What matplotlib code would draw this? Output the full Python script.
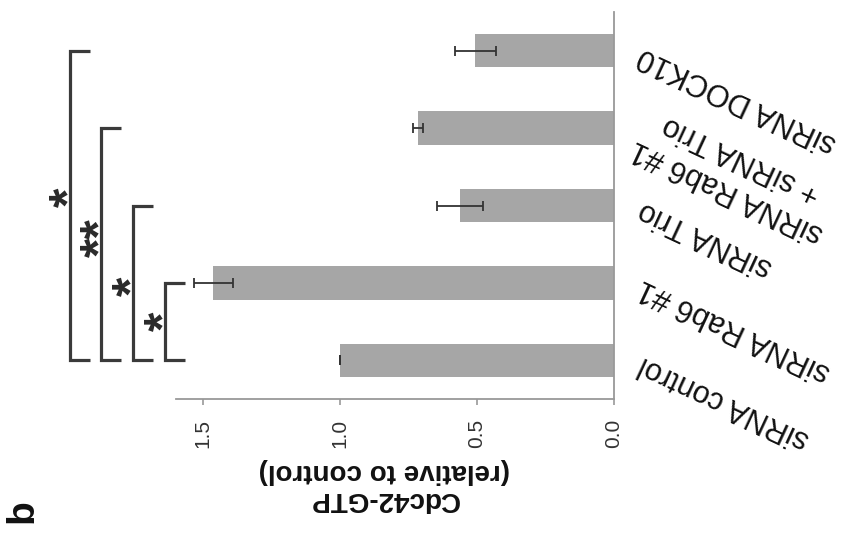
import matplotlib
matplotlib.use("Agg")
import matplotlib.pyplot as plt
import numpy as np

plt.rcParams['font.family'] = ['Liberation Sans', 'DejaVu Sans']

# ---- data ----
categories = ["siRNA control", "siRNA Rab6 #1", "siRNA Trio",
              "siRNA Rab6 #1\n+ siRNA Trio", "siRNA DOCK10"]
values = [1.0, 1.462, 0.562, 0.716, 0.507]
errors = [0.0, 0.072, 0.085, 0.018, 0.075]
value_ticks = [0.0, 0.5, 1.0, 1.5]
value_ticklabels = ["0.0", "0.5", "1.0", "1.5"]
value_label = "Cdc42-GTP\n(relative to control)"
panel_label = "b"
# significance brackets: (from category, to category, level, mark, mark position)
bracket_from = [0, 0, 0, 0]
bracket_to = [1, 2, 3, 4]
bracket_level = [1.639, 1.755, 1.872, 1.985]
bracket_marks = ["*", "*", "**", "*"]
mark_pos = [0.5, 0.95, 1.58, 2.1]

W, H = 843, 540
fig = plt.figure(figsize=(W / 100, H / 100), dpi=100)

# axes placement (pixels): zero line at x=614, 274 px per unit, top 12, bottom 399
x0_px, unit_px = 614, 274
xmax = 2.2
left_px = x0_px - xmax * unit_px
top_px, bot_px = 12, 399
ax = fig.add_axes([left_px / W, (H - bot_px) / H,
                   (x0_px - left_px) / W, (bot_px - top_px) / H])

ypos = np.arange(len(categories))
ax.barh(ypos, values, height=0.43, color="#a6a6a6", zorder=2)
ax.errorbar(values, ypos, xerr=errors, fmt="none", ecolor="#333333",
            elinewidth=1.3, capsize=3.3, capthick=1.3, zorder=3)

ax.set_xlim(xmax, 0)
ax.set_ylim(-0.5, len(categories) - 0.5)

for s in ["left", "top"]:
    ax.spines[s].set_visible(False)
ax.spines["bottom"].set_bounds(0, 1.6)
ax.spines["bottom"].set_color("#999999")
ax.spines["right"].set_color("#999999")
ax.spines["bottom"].set_linewidth(1.3)
ax.spines["right"].set_linewidth(1.3)

ax.set_xticks(value_ticks)
ax.set_xticklabels(value_ticklabels, rotation=90, fontsize=15, color="#333333")
ax.tick_params(axis="x", direction="out", length=4.5, width=1.2,
               color="#999999", pad=10)
ax.set_yticks([])

ax.set_xlabel(value_label, rotation=180, fontsize=20, fontweight="bold",
              ha="center", va="top", multialignment="center", color="#111111",
              linespacing=1.1)
ax.xaxis.set_label_coords((384 - left_px) / (x0_px - left_px),
                          -(458 - bot_px) / (bot_px - top_px))

# category labels (rotated, anchored near the zero line)
for i, lab in enumerate(categories):
    ax.text(-0.095, i - 0.04, lab, rotation=155, rotation_mode="anchor",
            ha="right", va="center", multialignment="center",
            fontsize=22, color="#111111", clip_on=False)

# significance brackets
arm = 0.072
for a, b, lv, mk, mp in zip(bracket_from, bracket_to, bracket_level,
                            bracket_marks, mark_pos):
    ax.plot([lv - arm, lv, lv, lv - arm], [a, a, b, b], color="#3a3a3a",
            lw=2.3, solid_capstyle="butt", solid_joinstyle="miter",
            zorder=4, clip_on=False)
    ax.text(lv - 0.005, mp, mk, rotation=90, fontsize=36, fontweight="bold",
            ha="center", va="center", color="#2a2a2a", zorder=4,
            linespacing=0.8)

fig.text(22 / W, 1 - 511 / H, panel_label, rotation=90, fontsize=28,
         fontweight="bold", ha="center", va="center", color="#111111")

fig.savefig("out.png", dpi=100)
